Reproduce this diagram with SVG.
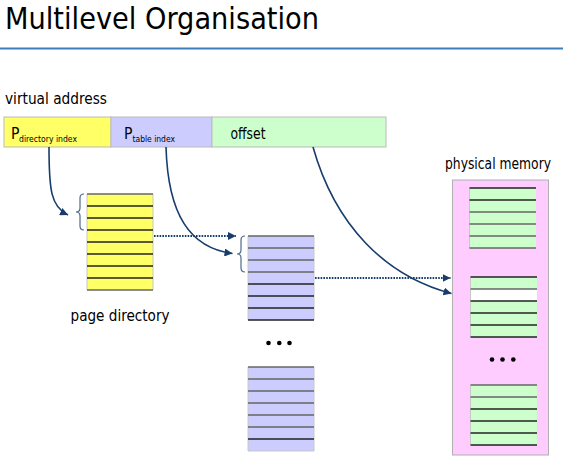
<svg xmlns="http://www.w3.org/2000/svg" width="563" height="463" viewBox="0 0 563 463">
<defs>
<style>
text{font-family:"DejaVu Sans Condensed","DejaVu Sans",sans-serif;fill:#000}
.row{stroke:#222;stroke-width:1.3}
.top{stroke:#666;stroke-width:1.6}
.side{stroke:#c8c8c8;stroke-width:1}
.con{fill:none;stroke:#163d6c;stroke-width:1.6}
.dot{fill:none;stroke:#163d6c;stroke-width:1.8;stroke-dasharray:1.6 1.2}
.brace{fill:none;stroke:#4d6a8c;stroke-width:1.2}
.blob{fill:#000}
</style>
<marker id="ah" markerUnits="userSpaceOnUse" markerWidth="9" markerHeight="8" refX="8" refY="4" orient="auto">
<path d="M0,0 L8,4 L0,8 Z" fill="#163d6c"/>
</marker>
</defs>
<rect width="563" height="463" fill="#fff"/>

<g id="title">
<text x="5" y="29" font-size="30" textLength="314" lengthAdjust="spacingAndGlyphs">Multilevel Organisation</text>
<line x1="0" y1="48.5" x2="563" y2="48.5" stroke="#3b7fbf" stroke-width="2"/>
</g>

<g id="virtual-address">
<text x="5" y="103.5" font-size="15.5" textLength="102" lengthAdjust="spacingAndGlyphs">virtual address</text>
<rect x="4" y="117" width="107" height="30" fill="#ffff66" stroke="#bbb"/>
<rect x="111" y="117" width="101" height="30" fill="#ccccff" stroke="#bbb"/>
<rect x="212" y="117" width="174" height="30" fill="#ccffcc" stroke="#bbb"/>
<text x="11" y="138.5" font-size="15.5">P</text>
<text x="19" y="141.5" font-size="9" textLength="58" lengthAdjust="spacingAndGlyphs">directory index</text>
<text x="124" y="138.5" font-size="15.5">P</text>
<text x="132.5" y="141.5" font-size="9" textLength="42.5" lengthAdjust="spacingAndGlyphs">table index</text>
<text x="230.5" y="138.5" font-size="15" textLength="35" lengthAdjust="spacingAndGlyphs">offset</text>
</g>

<g id="page-directory">
<rect x="87" y="194" width="66" height="96" fill="#ffff66"/>
<line class="side" x1="87" y1="194" x2="87" y2="290"/>
<line class="side" x1="153" y1="194" x2="153" y2="290"/>
<line class="top" x1="87" y1="194" x2="153" y2="194"/>
<line class="row" x1="87" y1="206" x2="153" y2="206"/>
<line class="row" x1="87" y1="218" x2="153" y2="218"/>
<line class="row" x1="87" y1="230" x2="153" y2="230"/>
<line class="row" x1="87" y1="242" x2="153" y2="242"/>
<line class="row" x1="87" y1="254" x2="153" y2="254"/>
<line class="row" x1="87" y1="266" x2="153" y2="266"/>
<line class="row" x1="87" y1="278" x2="153" y2="278"/>
<line class="top" x1="87" y1="290" x2="153" y2="290"/>
<path class="brace" d="M84,194 Q80,194 80,198 L80,208 Q80,212 76,212 Q80,212 80,216 L80,226 Q80,230 84,230"/>
<text x="70.5" y="320.5" font-size="15.5" textLength="99" lengthAdjust="spacingAndGlyphs">page directory</text>
</g>

<g id="page-table-1">
<rect x="248" y="236" width="66" height="84" fill="#ccccff"/>
<line class="side" x1="248" y1="236" x2="248" y2="320"/>
<line class="side" x1="314" y1="236" x2="314" y2="320"/>
<line class="top" x1="248" y1="236" x2="314" y2="236"/>
<line class="top" x1="248" y1="248" x2="314" y2="248"/>
<line class="top" x1="248" y1="260" x2="314" y2="260"/>
<line class="top" x1="248" y1="272" x2="314" y2="272"/>
<line class="row" x1="248" y1="284" x2="314" y2="284"/>
<line class="row" x1="248" y1="296" x2="314" y2="296"/>
<line class="row" x1="248" y1="308" x2="314" y2="308"/>
<line class="row" x1="248" y1="320" x2="314" y2="320"/>
<path class="brace" d="M245,236 Q241,236 241,240 L241,250 Q241,254 237,254 Q241,254 241,258 L241,268 Q241,272 245,272"/>
</g>

<g id="table-ellipsis">
<circle class="blob" cx="268.5" cy="343" r="2.3"/>
<circle class="blob" cx="279.3" cy="343" r="2.3"/>
<circle class="blob" cx="289.5" cy="343" r="2.3"/>
</g>

<g id="page-table-2">
<rect x="248" y="367" width="66" height="84" fill="#ccccff"/>
<line class="side" x1="248" y1="367" x2="248" y2="451"/>
<line class="side" x1="314" y1="367" x2="314" y2="451"/>
<line class="top" x1="248" y1="367" x2="314" y2="367"/>
<line class="top" x1="248" y1="379" x2="314" y2="379"/>
<line class="top" x1="248" y1="391" x2="314" y2="391"/>
<line class="top" x1="248" y1="403" x2="314" y2="403"/>
<line class="top" x1="248" y1="415" x2="314" y2="415"/>
<line class="top" x1="248" y1="427" x2="314" y2="427"/>
<line class="row" x1="248" y1="439" x2="314" y2="439"/>
<line class="side" x1="248" y1="451" x2="314" y2="451"/>
</g>

<g id="physical-memory">
<text x="445" y="168.5" font-size="15" textLength="106" lengthAdjust="spacingAndGlyphs">physical memory</text>
<rect x="452.5" y="180" width="96" height="275" fill="#ffccff" stroke="#b0b0b0"/>
<g id="frame-1">
<rect x="469.5" y="188" width="66.5" height="60" fill="#ccffcc"/>
<line class="side" x1="469.5" y1="188" x2="469.5" y2="248"/>
<line class="row" x1="469.5" y1="188" x2="536" y2="188"/>
<line class="row" x1="469.5" y1="200" x2="536" y2="200"/>
<line class="top" x1="469.5" y1="212" x2="536" y2="212"/>
<line class="top" x1="469.5" y1="224" x2="536" y2="224"/>
<line class="top" x1="469.5" y1="236" x2="536" y2="236"/>
<line class="top" x1="469.5" y1="248" x2="536" y2="248"/>
</g>
<g id="frame-2">
<rect x="470.5" y="277" width="66.5" height="60" fill="#ccffcc"/>
<rect x="470.5" y="289" width="66.5" height="12" fill="#ffffff"/>
<line class="side" x1="470.5" y1="277" x2="470.5" y2="337"/>
<line class="row" x1="470.5" y1="277" x2="537" y2="277"/>
<line class="top" x1="470.5" y1="289" x2="537" y2="289"/>
<line class="row" x1="470.5" y1="301" x2="537" y2="301"/>
<line class="row" x1="470.5" y1="313" x2="537" y2="313"/>
<line class="row" x1="470.5" y1="325" x2="537" y2="325"/>
<line class="row" x1="470.5" y1="337" x2="537" y2="337"/>
</g>
<g id="frame-ellipsis">
<circle class="blob" cx="492" cy="359.5" r="2.3"/>
<circle class="blob" cx="502.5" cy="359.5" r="2.3"/>
<circle class="blob" cx="513.3" cy="359.5" r="2.3"/>
</g>
<g id="frame-3">
<rect x="470.5" y="385" width="66.5" height="60" fill="#ccffcc"/>
<line class="side" x1="470.5" y1="385" x2="470.5" y2="445"/>
<line class="top" x1="470.5" y1="385" x2="537" y2="385"/>
<line class="top" x1="470.5" y1="397" x2="537" y2="397"/>
<line class="row" x1="470.5" y1="409" x2="537" y2="409"/>
<line class="row" x1="470.5" y1="421" x2="537" y2="421"/>
<line class="row" x1="470.5" y1="433" x2="537" y2="433"/>
<line class="row" x1="470.5" y1="445" x2="537" y2="445"/>
</g>
</g>

<g id="connectors">
<path class="con" d="M49,147 C49,190 51,207 68,215" marker-end="url(#ah)"/>
<path class="con" d="M166,147 C168,215 190,248 232.5,253.5" marker-end="url(#ah)"/>
<path class="con" d="M313,147 C335,225 385,276 451.5,293.5" marker-end="url(#ah)"/>
<path class="dot" d="M154,236 L236,236" marker-end="url(#ah)"/>
<path class="dot" d="M315,278 L450.5,278" marker-end="url(#ah)"/>
</g>
</svg>
